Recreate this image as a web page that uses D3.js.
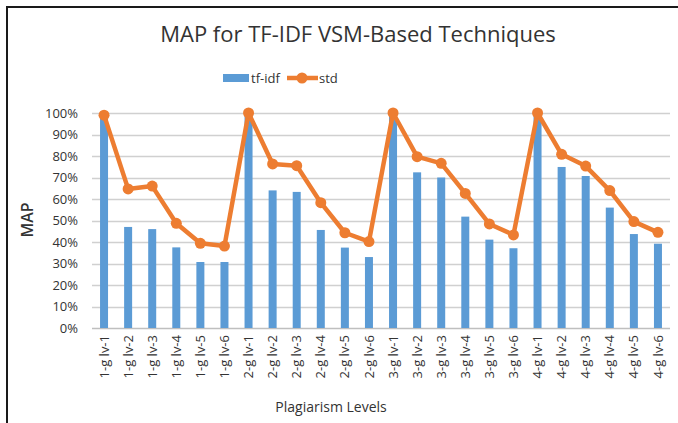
<!DOCTYPE html>
<html>
<head>
<meta charset="utf-8">
<script src="https://cdn.jsdelivr.net/npm/d3@7"></script>
<style>
  body { margin: 0; background: #fff; }
  text { font-family: "Open Sans", "Liberation Sans", sans-serif; fill: #333; }
</style>
</head>
<body>
<div id="chart"></div>
<script>
// chart values (percent)
const categories = [
  "1-g lv-1", "1-g lv-2", "1-g lv-3", "1-g lv-4", "1-g lv-5", "1-g lv-6",
  "2-g lv-1", "2-g lv-2", "2-g lv-3", "2-g lv-4", "2-g lv-5", "2-g lv-6",
  "3-g lv-1", "3-g lv-2", "3-g lv-3", "3-g lv-4", "3-g lv-5", "3-g lv-6",
  "4-g lv-1", "4-g lv-2", "4-g lv-3", "4-g lv-4", "4-g lv-5", "4-g lv-6"
];
const tfidf = [98, 47, 46, 37.5, 30.7, 30.7, 98.5, 64, 63.3, 45.6, 37.4, 33,
               98.5, 72.4, 70, 51.8, 41.1, 37.1, 98.5, 74.9, 70.7, 56, 43.7, 39.2];
const std = [99, 64.7, 66, 48.7, 39.4, 38.1, 100, 76.3, 75.5, 58.3, 44.3, 40.2,
             100, 79.7, 76.6, 62.6, 48.4, 43.3, 100, 80.8, 75.3, 63.9, 49.5, 44.5];
const yTicks = [0, 10, 20, 30, 40, 50, 60, 70, 80, 90, 100];

const width = 678, height = 423;
const margin = {top: 113, right: 8, bottom: 95, left: 92};
const blue = "#5B9BD5", orange = "#ED7D31";

const svg = d3.select("#chart")
    .append("svg")
    .attr("width", width)
    .attr("height", height);

// frame (only top and left edges visible in the screenshot)
svg.append("path")
    .attr("d", `M7,${height} V7 H${width}`)
    .attr("fill", "none")
    .attr("stroke", "#1a1a1a")
    .attr("stroke-width", 2);

const x = d3.scaleBand()
    .domain(categories)
    .range([margin.left, width - margin.right]);

const y = d3.scaleLinear()
    .domain([0, 100])
    .range([height - margin.bottom, margin.top]);

// gridlines
svg.append("g")
    .selectAll("line")
    .data(yTicks)
    .enter()
    .append("line")
    .attr("x1", margin.left)
    .attr("x2", width - margin.right)
    .attr("y1", d => Math.round(y(d)) + 0.5)
    .attr("y2", d => Math.round(y(d)) + 0.5)
    .attr("stroke", d => d === 0 ? "#BFBFBF" : "#D0D0D0")
    .attr("stroke-width", 1.5);

// y axis labels
const yAxis = svg.append("g")
    .attr("transform", `translate(${margin.left},0)`)
    .call(d3.axisLeft(y).tickValues(yTicks).tickFormat(d => d + "%").tickSize(0).tickPadding(14));
yAxis.select(".domain").remove();
yAxis.selectAll("text").style("font-size", "13px").attr("fill", "#333");

// x axis labels
const xAxis = svg.append("g")
    .attr("transform", `translate(0,${height - margin.bottom})`)
    .call(d3.axisBottom(x).tickSize(0));
xAxis.select(".domain").remove();
xAxis.selectAll("text")
    .style("font-size", "13px")
    .attr("fill", "#333")
    .attr("text-anchor", "end")
    .attr("transform", "rotate(-90)")
    .attr("x", -7)
    .attr("y", 0)
    .attr("dy", "0.35em");

// bars
const barW = 8;
svg.append("g")
    .selectAll("rect")
    .data(tfidf)
    .enter()
    .append("rect")
    .attr("x", (d, i) => x(categories[i]) + x.bandwidth() / 2 - barW / 2)
    .attr("y", d => y(d))
    .attr("width", barW)
    .attr("height", d => y(0) - y(d))
    .attr("fill", blue);

// line series
const line = d3.line()
    .x((d, i) => x(categories[i]) + x.bandwidth() / 2)
    .y(d => y(d));

svg.append("path")
    .datum(std)
    .attr("d", line)
    .attr("fill", "none")
    .attr("stroke", orange)
    .attr("stroke-width", 4.5)
    .attr("stroke-linejoin", "round");

svg.append("g")
    .selectAll("circle")
    .data(std)
    .enter()
    .append("circle")
    .attr("cx", (d, i) => x(categories[i]) + x.bandwidth() / 2)
    .attr("cy", d => y(d))
    .attr("r", 5.5)
    .attr("fill", orange);

// title
svg.append("text")
    .attr("x", 358)
    .attr("y", 42)
    .attr("text-anchor", "middle")
    .style("font-size", "22px")
    .attr("fill", "#111")
    .text("MAP for TF-IDF VSM-Based Techniques");

// legend
const legend = svg.append("g");
legend.append("rect")
    .attr("x", 223).attr("y", 74).attr("width", 26).attr("height", 8)
    .attr("fill", blue);
legend.append("text")
    .attr("x", 251).attr("y", 78).attr("dy", "0.35em")
    .style("font-size", "13px")
    .text("tf-idf");
legend.append("line")
    .attr("x1", 287).attr("x2", 318).attr("y1", 78).attr("y2", 78)
    .attr("stroke", orange).attr("stroke-width", 4.5);
legend.append("circle")
    .attr("cx", 302).attr("cy", 78).attr("r", 5.5)
    .attr("fill", orange);
legend.append("text")
    .attr("x", 319).attr("y", 78).attr("dy", "0.35em")
    .style("font-size", "13px")
    .text("std");

// axis titles
svg.append("text")
    .attr("transform", "translate(27,220) rotate(-90)")
    .attr("text-anchor", "middle")
    .attr("dy", "0.35em")
    .style("font-size", "16px")
    .style("font-weight", "600")
    .attr("fill", "#222")
    .text("MAP");

svg.append("text")
    .attr("x", 331)
    .attr("y", 407)
    .attr("text-anchor", "middle")
    .attr("dy", "0.35em")
    .style("font-size", "14px")
    .text("Plagiarism Levels");
</script>
</body>
</html>
